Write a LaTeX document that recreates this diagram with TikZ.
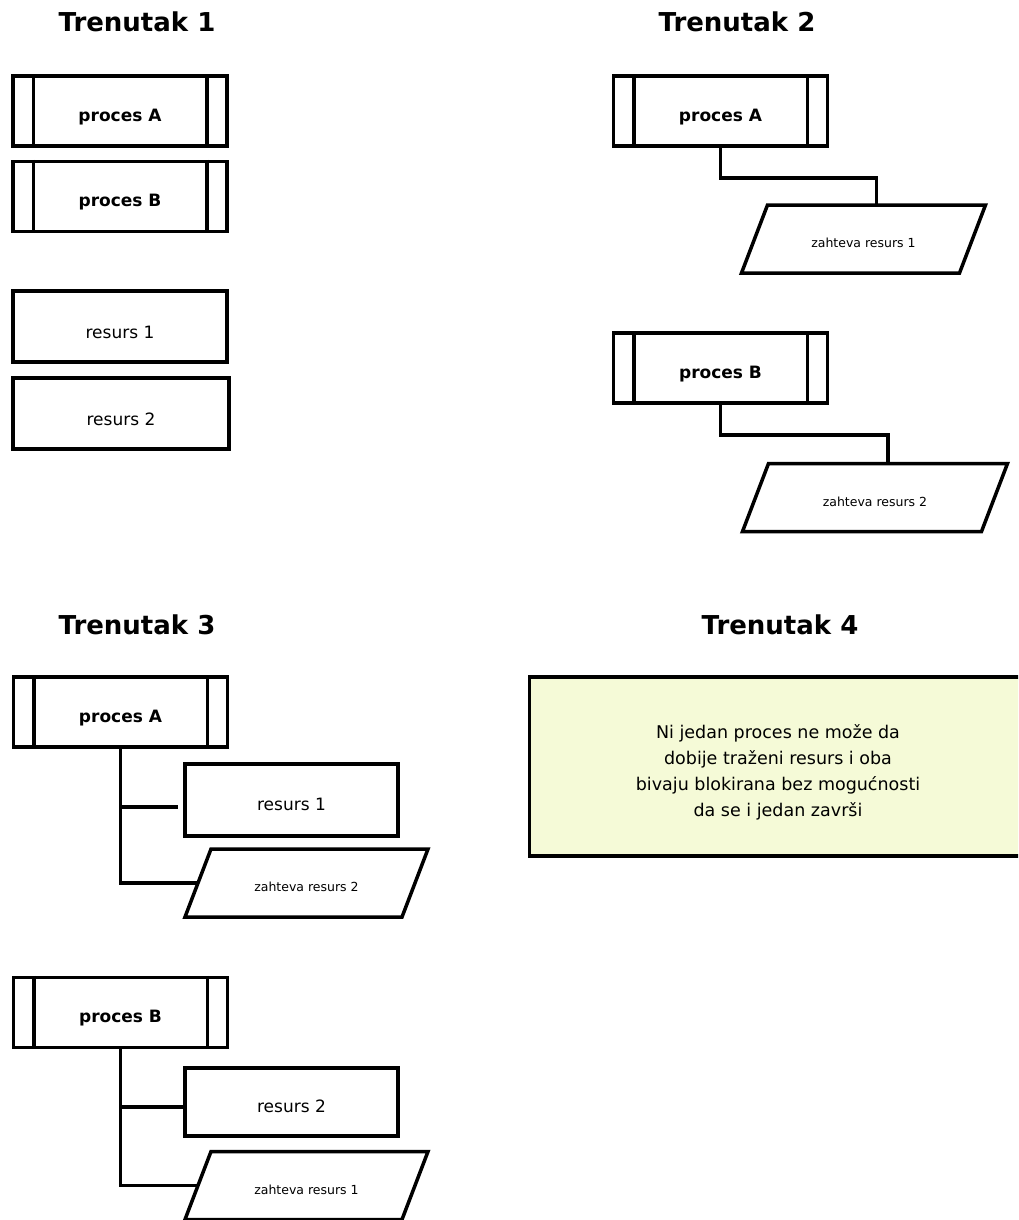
\documentclass[tikz,border=0pt]{standalone}
\usepackage{fontspec}
\setmainfont{DejaVu Sans}
\definecolor{notefill}{RGB}{245,250,215}

\tikzset{
  link/.style={line width=3.5pt},
  heading/.style={font=\bfseries\fontsize{26}{31}\selectfont},
  procbox/.style={draw, line width=3.5pt, minimum width=214pt, minimum height=70pt,
    inner sep=0pt, font=\bfseries\fontsize{17}{20}\selectfont},
  resbox/.style={draw, line width=3.5pt, minimum width=214pt, minimum height=71pt,
    inner sep=0pt, font=\fontsize{17}{20}\selectfont},
  reqbody/.style={rectangle, outer sep=0pt, inner sep=0pt, minimum height=68pt,
    font=\fontsize{12.5}{15}\selectfont},
  notebox/.style={draw, line width=3.5pt, fill=notefill, minimum width=497pt,
    minimum height=179pt, inner sep=0pt,
    font=\fontsize{17.5}{26}\selectfont},
}

% text sits a little below the middle of each box
\newcommand\low[2][6pt]{\raisebox{-#1}[\height][\depth]{#2}}
% the two inner bars of a process box
\newcommand\procbars[1]{%
  \draw[link] ([xshift=22pt]#1.north west) -- ([xshift=22pt]#1.south west)
              ([xshift=-22pt]#1.north east) -- ([xshift=-22pt]#1.south east);}
% a request: a parallelogram leaning right, drawn around a named body node
% #1 name, #2 centre, #3 side length, #4 text
\newcommand\request[4]{%
  \node[reqbody, minimum width=#3] (#1) at #2 {\low[4pt]{#4}};
  \draw[link] ([xshift=13pt]#1.north west) -- ([xshift=13pt]#1.north east)
    -- ([xshift=-13pt]#1.south east) -- ([xshift=-13pt]#1.south west) -- cycle;}

\begin{document}
\begin{tikzpicture}[x=1pt, y=-1pt]
\path[use as bounding box] (0,0) rectangle (1018,1220);
\clip (0,0) rectangle (1018,1220);

% ---- Trenutak 1
\node[heading] (t1) at (137,22) {Trenutak 1};
\node[procbox] (p1a) at (120,111) {\low{proces A}};
\procbars{p1a}
\node[procbox] (p1b) at (120,196.5) {\low{proces B}};
\procbars{p1b}
\node[resbox] (r1a) at (120,326.5) {\low{resurs 1}};
\node[resbox, minimum width=216pt] (r1b) at (121,413.5) {\low{resurs 2}};

% ---- Trenutak 2
\node[heading] (t2) at (737,22) {Trenutak 2};
\node[procbox] (p2a) at (720.5,111) {\low{proces A}};
\procbars{p2a}
\request{q2a}{(863.5,239)}{218pt}{zahteva resurs 1}
\draw[link] (p2a.south) -- ++(0,30) -| ([xshift=13pt]q2a.north);

\node[procbox] (p2b) at (720.5,368) {\low{proces B}};
\procbars{p2b}
\request{q2b}{(875,497.5)}{239pt}{zahteva resurs 2}
\draw[link] (p2b.south) -- ++(0,30) -| ([xshift=13pt]q2b.north);

% ---- Trenutak 3
\node[heading] (t3) at (137,625) {Trenutak 3};
\node[procbox] (p3a) at (120.5,712) {\low{proces A}};
\procbars{p3a}
\node[resbox, minimum width=213pt, minimum height=72pt] (r3a) at (291.5,800) {\low[4pt]{resurs 1}};
\request{q3a}{(306.5,883)}{217pt}{zahteva resurs 2}
\coordinate (j3a) at ([xshift=-5pt, yshift=-7pt]r3a.west);
\draw[link] (p3a.south) |- (q3a.west);
\draw[link] (p3a.south |- j3a) -- (j3a);

\node[procbox] (p3b) at (120.5,1012.5) {\low{proces B}};
\procbars{p3b}
\node[resbox, minimum width=213pt, minimum height=68pt] (r3b) at (291.5,1102) {\low[4pt]{resurs 2}};
\request{q3b}{(306.5,1185.5)}{217pt}{zahteva resurs 1}
\coordinate (j3b) at ([yshift=-5pt]r3b.west);
\draw[link] (p3b.south) |- (q3b.west);
\draw[link] (p3b.south |- j3b) -- (j3b);

% ---- Trenutak 4
\node[heading] (t4) at (780,625) {Trenutak 4};
\node[notebox] (note) at (778,766.5) {\low{\begin{tabular}{@{}c@{}}%
Ni jedan proces ne može da\\
dobije traženi resurs i oba\\
bivaju blokirana bez mogućnosti\\
da se i jedan završi\end{tabular}}};
\end{tikzpicture}
\end{document}
